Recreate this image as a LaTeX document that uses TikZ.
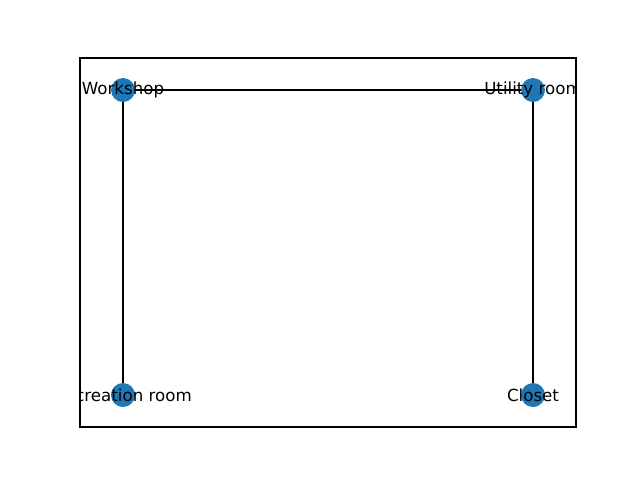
\documentclass[tikz,border=0pt]{standalone}
\usepackage{fontspec}
\setmainfont{DejaVu Sans}
\definecolor{nodeblue}{HTML}{1F77B4}
\begin{document}
\begin{tikzpicture}[x=0.75pt,y=-0.75pt,
  vertex/.style={circle,fill=nodeblue,draw=none,minimum size=18pt,inner sep=0pt},
  edge/.style={draw=black,line width=1pt},
  lbl/.style={inner sep=0pt,font=\fontsize{12.5pt}{15pt}\selectfont,text=black}]
\useasboundingbox (0,0) rectangle (640,480);
\node[vertex] (w) at (123,90) {};
\node[vertex] (u) at (533,90) {};
\node[vertex] (r) at (123,395) {};
\node[vertex] (c) at (533,395) {};
\draw[edge] (w) -- (u);
\draw[edge] (w) -- (r);
\draw[edge] (u) -- (c);
\begin{scope}
\clip (80,58) rectangle (576,427);
\node[lbl] (wl) at (w) {Workshop};
\node[lbl] (ul) at (u) {Utility room};
\node[lbl] (rl) at (r) {Recreation room};
\node[lbl] (cl) at (c) {Closet};
\end{scope}
\draw[line width=0.83pt] (80,58) rectangle (576,427);
\end{tikzpicture}
\end{document}
